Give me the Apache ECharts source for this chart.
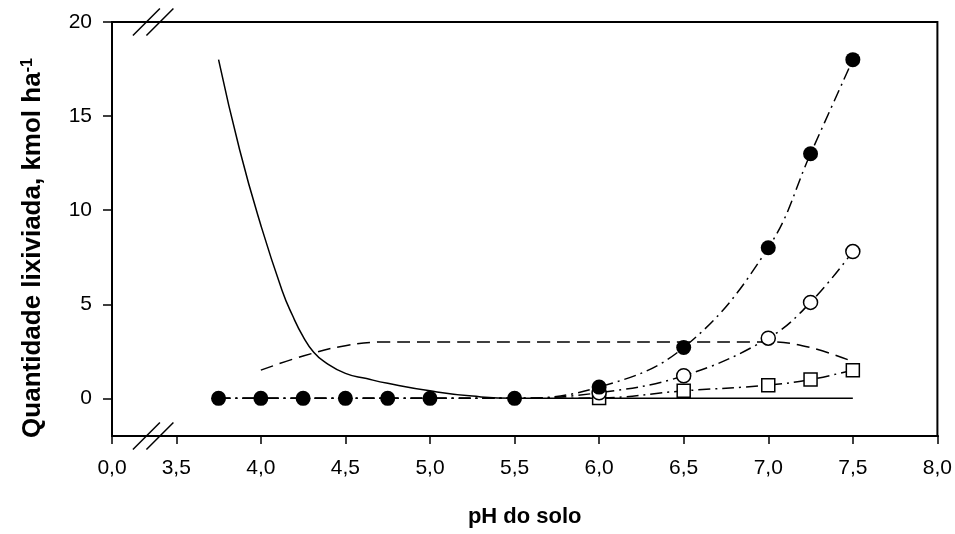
<!DOCTYPE html>
<html>
<head>
<meta charset="utf-8">
<script src="https://cdn.jsdelivr.net/npm/echarts@6/dist/echarts.min.js"></script>
<style>
  html, body { margin: 0; padding: 0; background: #ffffff; }
  #chart { width: 955px; height: 534px; }
</style>
</head>
<body>
<div id="chart"></div>
<script>
// measured points (pH, amount)
const phPoints = [3.75, 4.0, 4.25, 4.5, 4.75, 5.0, 5.5, 6.0, 6.5, 7.0, 7.25, 7.5];
const filledValues = [0, 0, 0, 0, 0, 0, 0, 0.6, 2.7, 8.0, 13.0, 18.0];
const openValues = [0, 0, 0, 0, 0, 0, 0, 0.3, 1.2, 3.2, 5.1, 7.8];
const squareValues = [0, 0, 0, 0, 0, 0, 0, 0.02, 0.4, 0.7, 1.0, 1.5];

// solid curve
const solidPh = [3.75, 3.875, 4.0, 4.125, 4.1875, 4.25, 4.3125, 4.375, 4.5, 4.625, 4.75, 5.0, 5.25, 5.5, 6.0, 6.5, 7.0, 7.5];
const solidValues = [18.0, 13.2, 9.2, 5.75, 4.4, 3.28, 2.45, 1.95, 1.33, 1.05, 0.8, 0.4, 0.12, 0, 0, 0, 0, 0];

// dashed curve
const dashedPh = [4.0, 4.25, 4.5, 4.75, 5.0, 5.5, 6.0, 6.5, 7.0, 7.25, 7.5];
const dashedValues = [1.5, 2.25, 2.8, 3.0, 3.0, 3.0, 3.0, 3.0, 3.0, 2.7, 1.95];

const yTicks = [0, 5, 10, 15, 20];

const font = "'Liberation Sans', Arial, sans-serif";
const dashDot = [12, 5, 2, 5];

function pairs(xs, ys) {
  return xs.map((x, i) => [x, ys[i]]);
}

// open markers only from pH 6.0 on (earlier ones sit under the filled dots)
function markedFrom(xs, ys, fromX) {
  return xs.map((x, i) => x >= fromX ? [x, ys[i]] : { value: [x, ys[i]], symbol: "none" });
}

const chart = echarts.init(document.getElementById("chart"), null, { renderer: "canvas" });

chart.setOption({
  animation: false,
  backgroundColor: "#ffffff",
  grid: {
    left: 112,
    right: 17,
    top: 22,
    bottom: 98,
    show: true,
    borderColor: "#000",
    borderWidth: 2
  },
  xAxis: {
    type: "value",
    min: 0,
    max: 8,
    interval: 0.5,
    breaks: [{ start: 0, end: 3.5, gap: 0.38 }],
    breakArea: { show: false },
    name: "pH do solo",
    nameLocation: "middle",
    nameGap: 70,
    nameTextStyle: { fontSize: 22, fontWeight: "bold", color: "#000", fontFamily: font },
    axisLine: { show: true, onZero: false, lineStyle: { color: "#000", width: 2 } },
    axisTick: { show: true, inside: false, length: 8, lineStyle: { color: "#000", width: 1.5 } },
    axisLabel: {
      margin: 22,
      fontSize: 21,
      color: "#000",
      fontFamily: font,
      formatter(v) {
        return v.toFixed(1).replace(".", ",");
      }
    },
    splitLine: { show: false }
  },
  yAxis: {
    type: "value",
    min: -2,
    max: 20,
    name: "Quantidade lixiviada, kmol ha{sup|-1}",
    nameLocation: "middle",
    nameRotate: 90,
    nameGap: 66,
    nameTextStyle: {
      fontSize: 26,
      fontWeight: "bold",
      color: "#000",
      fontFamily: font,
      padding: [0, 38, 0, 0],
      rich: {
        sup: { fontSize: 16, fontWeight: "bold", color: "#000", fontFamily: font, verticalAlign: "top" }
      }
    },
    axisLine: { show: true, onZero: false, lineStyle: { color: "#000", width: 2 } },
    axisTick: {
      show: true,
      inside: false,
      length: 9,
      customValues: yTicks,
      lineStyle: { color: "#000", width: 1.5 }
    },
    axisLabel: {
      margin: 20,
      fontSize: 21,
      color: "#000",
      fontFamily: font,
      customValues: yTicks
    },
    splitLine: { show: false }
  },
  series: [
    {
      name: "solid",
      type: "line",
      smooth: 0.5,
      showSymbol: false,
      lineStyle: { color: "#000", width: 1.5 },
      data: pairs(solidPh, solidValues),
      z: 2
    },
    {
      name: "dashed",
      type: "line",
      smooth: 0.4,
      showSymbol: false,
      lineStyle: { color: "#000", width: 1.5, type: [13, 7] },
      data: pairs(dashedPh, dashedValues),
      z: 2
    },
    {
      name: "square",
      type: "line",
      smooth: 0.4,
      symbol: "rect",
      symbolSize: 13,
      itemStyle: { color: "#fff", borderColor: "#000", borderWidth: 1.5 },
      lineStyle: { color: "#000", width: 1.5, type: dashDot },
      data: markedFrom(phPoints, squareValues, 6.0),
      z: 3
    },
    {
      name: "open",
      type: "line",
      smooth: 0.4,
      symbol: "circle",
      symbolSize: 14,
      itemStyle: { color: "#fff", borderColor: "#000", borderWidth: 1.5 },
      lineStyle: { color: "#000", width: 1.5, type: dashDot },
      data: markedFrom(phPoints, openValues, 6.0),
      z: 4
    },
    {
      name: "filled",
      type: "line",
      smooth: 0.4,
      symbol: "circle",
      symbolSize: 15,
      itemStyle: { color: "#000", borderColor: "#000", borderWidth: 0 },
      lineStyle: { color: "#000", width: 1.5, type: dashDot },
      data: pairs(phPoints, filledValues),
      z: 5
    }
  ]
});

// axis break marks "//" on the top and bottom frame lines
const p0 = chart.convertToPixel({ xAxisIndex: 0 }, 0);
const p35 = chart.convertToPixel({ xAxisIndex: 0 }, 3.5);
const yTop = chart.convertToPixel({ yAxisIndex: 0 }, 20);
const yBottom = chart.convertToPixel({ yAxisIndex: 0 }, -2);
const mid = p0 + (p35 - p0) * 0.64;
const half = 13.5;
const marks = [];
[yTop, yBottom].forEach((y) => {
  [mid - 6.75, mid + 6.75].forEach((cx) => {
    marks.push({
      type: "line",
      shape: { x1: cx - half, y1: y + half, x2: cx + half, y2: y - half },
      style: { stroke: "#000", lineWidth: 1.5 },
      z: 100
    });
  });
});
chart.setOption({ graphic: marks });
</script>
</body>
</html>
